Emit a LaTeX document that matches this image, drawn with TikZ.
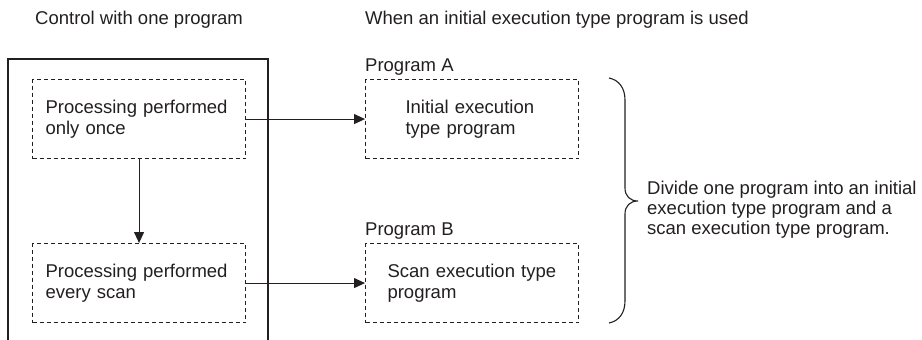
\documentclass[tikz,border=0pt]{standalone}
\usepackage{fontspec}
\setmainfont{Liberation Sans}
\usetikzlibrary{arrows.meta}
\definecolor{ink}{HTML}{231F20}
\begin{document}
\begin{tikzpicture}[x=1pt,y=-1pt,
  every node/.style={text=ink, font=\fontsize{18.5pt}{21pt}\selectfont},
  dbox/.style={draw=ink, line width=1.1pt, dash pattern=on 4pt off 3pt,
    minimum width=213pt, minimum height=79pt, inner ysep=0pt, align=left, anchor=north west},
  lbl/.style={anchor=base west, inner sep=0pt},
  arr/.style={draw=ink, line width=1.1pt, -{Triangle[length=11pt,width=10pt]}},
  solid line/.style={draw=ink, line width=1.1pt}]
\useasboundingbox (0,0) rectangle (922,340);
% outer frame (open at bottom)
\draw[solid line] (8,341) -- (8,59) -- (268,59) -- (268,341);
% titles
\node[lbl] (t1) at (35,24) {Control with one program};
\node[lbl] (t2) at (365,24) {When an initial execution type program is used};
% left boxes
\node[dbox, inner xsep=13pt, text width=187pt] (p1) at (32,79) {Processing performed\\only once};
\node[dbox, inner xsep=13pt, text width=187pt] (p2) at (32,243) {Processing performed\\every scan};
% right boxes
\node[lbl] (la) at (365,71) {Program A};
\node[lbl] (lb) at (365,235) {Program B};
\node[dbox, inner xsep=40pt, text width=133pt] (pa) at (365,79) {Initial execution\\type program};
\node[dbox, inner xsep=22pt, text width=169pt] (pb) at (365,243) {Scan execution type\\program};
% connectors
\draw[arr] (p1.south) -- (p2.north);
\draw[arr] (p1.east) -- (pa.west);
\draw[arr] (p2.east) -- (pb.west);
% brace
\draw[solid line] (609,78) .. controls (619,80) and (625,88) .. (625,100) -- (625,188)
  .. controls (625,196) and (630,201) .. (638,201)
  .. controls (630,201) and (625,206) .. (625,214) -- (625,301)
  .. controls (625,313) and (619,321) .. (609,323);
\node[anchor=west, inner sep=0pt, align=left, font=\fontsize{18.5pt}{20pt}\selectfont] (note) at (647,210.2)
  {Divide one program into an initial\\execution type program and a\\scan execution type program.};
\end{tikzpicture}
\end{document}
